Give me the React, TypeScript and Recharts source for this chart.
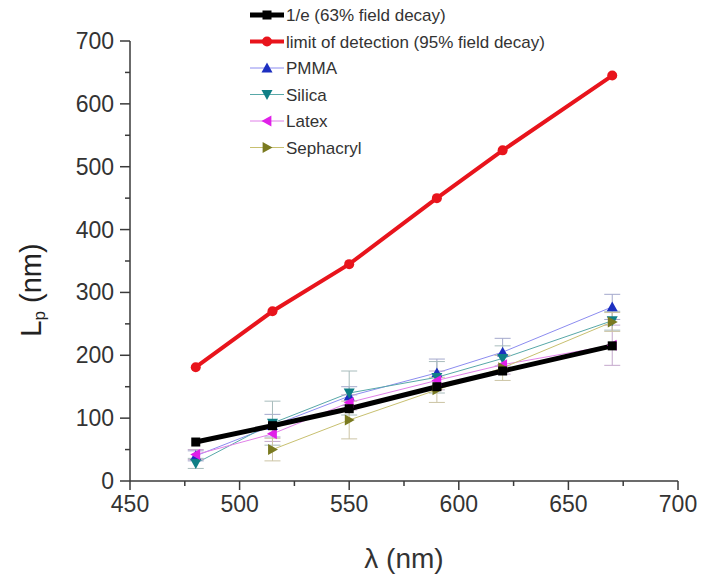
import React from "react";
import { ErrorBar, Line, LineChart, XAxis, YAxis, Label } from "recharts";

// wavelength (nm) and penetration depth Lp (nm)
const LAMBDA = [480, 515, 550, 590, 620, 670];
const DECAY_1E = [62, 88, 115, 150, 175, 215];
const LOD_95 = [181, 270, 345, 450, 526, 645];
const PMMA = [40, 88, 135, 172, 205, 277];
const PMMA_ERR = [8, 18, 15, 22, 22, 20];
const SILICA = [28, 92, 140, 165, 195, 255];
const SILICA_ERR = [8, 35, 35, 25, 20, 15];
const LATEX = [42, 75, 125, 160, 185, 216];
const LATEX_ERR = [8, 12, 12, 15, 15, 32];
const SEPHACRYL = [null, 50, 97, 145, 180, 253];
const SEPHACRYL_ERR = [null, 18, 30, 20, 20, 15];

const X_TICKS = [450, 475, 500, 525, 550, 575, 600, 625, 650, 675, 700];
const Y_TICKS = [0, 50, 100, 150, 200, 250, 300, 350, 400, 450, 500, 550, 600, 650, 700];

const FONT = "'Liberation Sans', Arial, sans-serif";
const AXIS = "#3a3a3a";

type Shape = "square" | "circle" | "up" | "down" | "left" | "right";

const SERIES: {
  key: string;
  name: string;
  line: string;
  mark: string;
  width: number;
  shape: Shape;
  size: number;
  err?: string;
  errColor?: string;
}[] = [
  { key: "pmma", name: "PMMA", line: "#8c8cf0", mark: "#1c2fc0", width: 1, shape: "up", size: 5.5, err: "pmmaErr", errColor: "#a4a8cc" },
  { key: "silica", name: "Silica", line: "#58a8a8", mark: "#0f7f86", width: 1, shape: "down", size: 5.5, err: "silicaErr", errColor: "#a8bcbc" },
  { key: "latex", name: "Latex", line: "#e080e8", mark: "#e020e8", width: 1, shape: "left", size: 5.5, err: "latexErr", errColor: "#c4a8cc" },
  { key: "sephacryl", name: "Sephacryl", line: "#c8c070", mark: "#7a7a20", width: 1, shape: "right", size: 5.5, err: "sephacrylErr", errColor: "#ccc4a4" },
  { key: "decay", name: "1/e (63% field decay)", line: "#000000", mark: "#000000", width: 5, shape: "square", size: 4.5 },
  { key: "lod", name: "limit of detection (95% field decay)", line: "#e8141c", mark: "#e8141c", width: 4, shape: "circle", size: 5 },
];

const LEGEND_ORDER = ["decay", "lod", "pmma", "silica", "latex", "sephacryl"];

const data = LAMBDA.map((x, i) => ({
  x,
  decay: DECAY_1E[i],
  lod: LOD_95[i],
  pmma: PMMA[i],
  pmmaErr: PMMA_ERR[i],
  silica: SILICA[i],
  silicaErr: SILICA_ERR[i],
  latex: LATEX[i],
  latexErr: LATEX_ERR[i],
  sephacryl: SEPHACRYL[i],
  sephacrylErr: SEPHACRYL_ERR[i],
}));

function Marker({ cx, cy, shape, size, fill }: { cx: number; cy: number; shape: Shape; size: number; fill: string }) {
  if (cx == null || cy == null || Number.isNaN(cy)) return null;
  const s = size;
  if (shape === "square") return <rect x={cx - s} y={cy - s} width={2 * s} height={2 * s} fill={fill} />;
  if (shape === "circle") return <circle cx={cx} cy={cy} r={s} fill={fill} />;
  let pts = "";
  if (shape === "up") pts = `${cx},${cy - s} ${cx + s},${cy + s * 0.8} ${cx - s},${cy + s * 0.8}`;
  if (shape === "down") pts = `${cx},${cy + s} ${cx + s},${cy - s * 0.8} ${cx - s},${cy - s * 0.8}`;
  if (shape === "left") pts = `${cx - s},${cy} ${cx + s * 0.8},${cy - s} ${cx + s * 0.8},${cy + s}`;
  if (shape === "right") pts = `${cx + s},${cy} ${cx - s * 0.8},${cy - s} ${cx - s * 0.8},${cy + s}`;
  return <polygon points={pts} fill={fill} />;
}

function XTick({ x, y, payload }: any) {
  const major = payload.value % 50 === 0;
  return (
    <g>
      <line x1={x} x2={x} y1={y} y2={y + (major ? 9 : 5)} stroke={AXIS} strokeWidth={1.5} />
      {major && (
        <text x={x} y={y + 31} textAnchor="middle" fontSize={23} fill="#333" fontFamily={FONT}>
          {payload.value}
        </text>
      )}
    </g>
  );
}

function YTick({ x, y, payload }: any) {
  const major = payload.value % 100 === 0;
  return (
    <g>
      <line x1={x} x2={x - (major ? 10 : 5)} y1={y} y2={y} stroke={AXIS} strokeWidth={1.5} />
      {major && (
        <text x={x - 16} y={y + 8} textAnchor="end" fontSize={23} fill="#333" fontFamily={FONT}>
          {payload.value}
        </text>
      )}
    </g>
  );
}

function LegendBox() {
  return (
    <svg width={340} height={160} style={{ position: "absolute", left: 240, top: -4 }}>
      {LEGEND_ORDER.map((k, i) => {
        const s = SERIES.find((d) => d.key === k)!;
        const y = 11 + i * 26.5;
        return (
          <g key={k}>
            <line x1={2} x2={36} y1={y} y2={y} stroke={s.line} strokeWidth={s.width} />
            <Marker cx={19} cy={y} shape={s.shape} size={s.size} fill={s.mark} />
            <text x={38} y={y + 6} fontSize={17} fill="#333" fontFamily={FONT}>
              {s.name}
            </text>
          </g>
        );
      })}
    </svg>
  );
}

export default function App() {
  return (
    <div style={{ position: "relative", width: 697, height: 573 }}>
      <LineChart width={697} height={573} data={data} margin={{ top: 33, right: 27, bottom: 60, left: 62 }}>
        <XAxis
          dataKey="x"
          type="number"
          domain={[450, 700]}
          ticks={X_TICKS}
          interval={0}
          tick={<XTick />}
          tickLine={false}
          tickSize={0}
          tickMargin={0}
          height={40}
          axisLine={{ stroke: AXIS, strokeWidth: 1.5 }}
        >
          <Label
            content={() => (
              <text x={396} y={560} textAnchor="middle" fontSize={28} fill="#333" fontFamily={FONT}>
                λ (nm)
              </text>
            )}
          />
        </XAxis>
        <YAxis
          type="number"
          domain={[0, 700]}
          ticks={Y_TICKS}
          interval={0}
          tick={<YTick />}
          tickLine={false}
          tickSize={0}
          tickMargin={0}
          width={60}
          axisLine={{ stroke: AXIS, strokeWidth: 1.5 }}
        >
          <Label
            content={() => (
              <text
                x={25}
                y={282}
                transform="rotate(-90 25 282)"
                textAnchor="middle"
                dominantBaseline="middle"
                fontSize={29}
                fill="#222"
                fontFamily={FONT}
              >
                L<tspan fontSize={17} dy={8}>p</tspan>
                <tspan dy={-8}> (nm)</tspan>
              </text>
            )}
          />
        </YAxis>
        {SERIES.map((s) => (
          <Line
            key={s.key}
            dataKey={s.key}
            type="linear"
            stroke={s.line}
            strokeWidth={s.width}
            isAnimationActive={false}
            activeDot={false}
            dot={(p: any) => (
              <Marker key={`${s.key}-${p.index}`} cx={p.cx} cy={p.cy} shape={s.shape} size={s.size} fill={s.mark} />
            )}
          >
            {s.err && (
              <ErrorBar dataKey={s.err} direction="y" width={8} stroke={s.errColor} strokeWidth={1} isAnimationActive={false} />
            )}
          </Line>
        ))}
      </LineChart>
      <LegendBox />
    </div>
  );
}
